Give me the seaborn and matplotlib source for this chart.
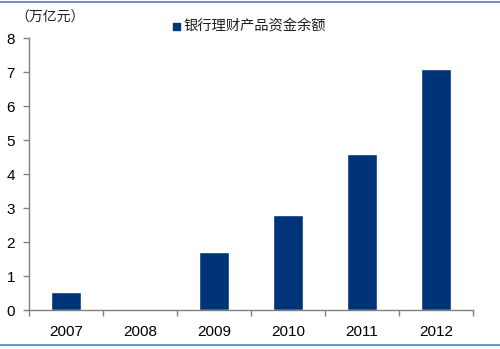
import matplotlib
matplotlib.use("Agg")
import matplotlib.pyplot as plt
from matplotlib.lines import Line2D
from matplotlib.ticker import FixedLocator
import seaborn as sns
import pandas as pd

years = ["2007", "2008", "2009", "2010", "2011", "2012"]
balance = [0.54, 0.0, 1.7, 2.8, 4.6, 7.1]
series_name = "银行理财产品资金余额"
unit_label = "（万亿元）"

sns.set_style("white")
plt.rcParams["font.family"] = ["Liberation Sans", "Noto Sans CJK SC", "DejaVu Sans"]

df = pd.DataFrame({"year": years, "balance": balance})

fig = plt.figure(figsize=(5.0, 3.49), dpi=100)
ax = fig.add_axes([0.058, 0.1117, 0.888, 0.7793])

bar_color = "#003478"
sns.barplot(data=df, x="year", y="balance", color=bar_color, width=0.4,
            saturation=1, ax=ax)

ax.set_ylim(0, 8)
ax.set_xlim(-0.5, len(years) - 0.5)
ax.set_yticks(range(0, 9))
ax.set_xlabel("")
ax.set_ylabel("")

for side in ("top", "right"):
    ax.spines[side].set_visible(False)
for side in ("left", "bottom"):
    ax.spines[side].set_color("#808080")
    ax.spines[side].set_linewidth(1.0)

ax.tick_params(axis="y", which="major", left=True, length=4, width=1,
               color="#808080", labelsize=11, pad=6, labelcolor="black")
ax.tick_params(axis="x", which="major", bottom=False, labelsize=11, pad=7,
               labelcolor="black")
ax.xaxis.set_minor_locator(FixedLocator([i - 0.5 for i in range(len(years) + 1)]))
ax.tick_params(axis="x", which="minor", bottom=True, length=4, width=1,
               color="#808080")

# unit caption and legend above the plot area
fig.text(0.03, 0.948, unit_label, fontsize=10, family=["Noto Sans CJK SC"],
         va="center", ha="left", color="#222222")
fig.patches.append(plt.Rectangle((0.346, 0.914), 0.014, 0.02,
                                 transform=fig.transFigure, color=bar_color))
fig.text(0.366, 0.925, series_name, fontsize=10.3, family=["Noto Sans CJK SC"],
         va="center", ha="left", color="#222222")

# thin rules framing the figure
for y in (1 - 2 / 349, 1 - 345 / 349):
    fig.add_artist(Line2D([0, 1], [y, y], transform=fig.transFigure,
                          color="#4f81bd", linewidth=1.2))

fig.savefig("out.png", dpi=100)
